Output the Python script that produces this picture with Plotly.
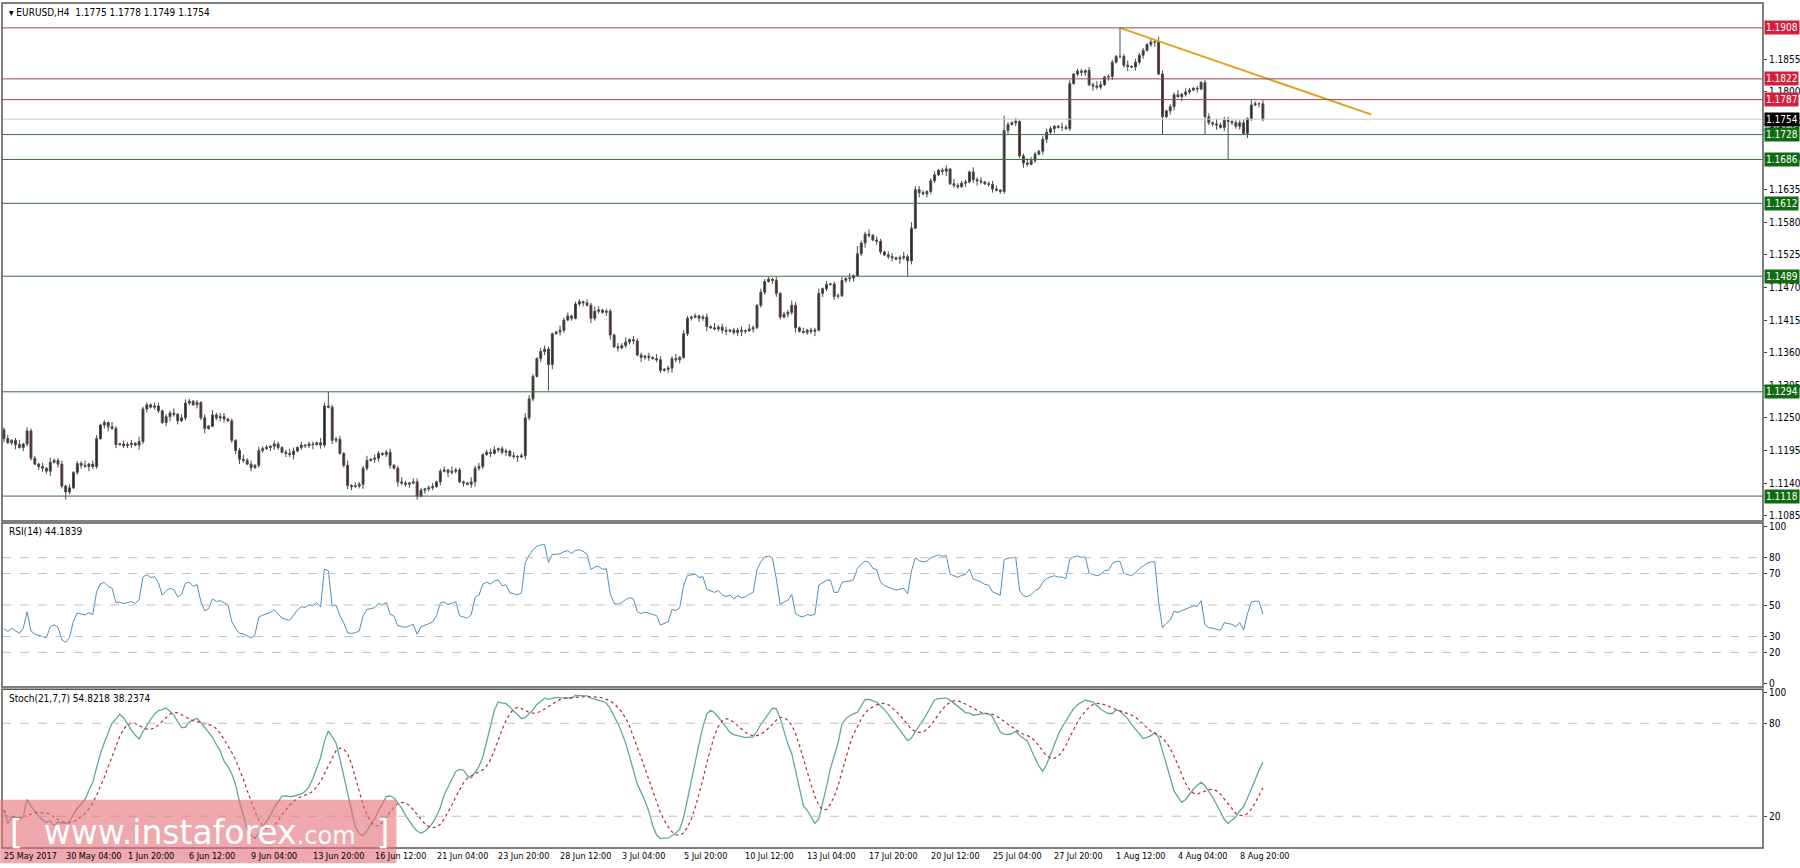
import numpy as np
import pandas as pd
import plotly.graph_objects as go

# H4 closes, in pips above 1.1000 (bar 0 = 25 May 2017)
close_pips = [
    215, 208, 212, 205, 200, 206, 228, 182, 172, 168,
    165, 160, 175, 178, 172, 135, 125, 132, 158, 173,
    170, 168, 172, 168, 215, 238, 242, 235, 232, 205,
    206, 203, 205, 207, 204, 210, 265, 272, 268, 270,
    262, 242, 252, 258, 256, 245, 250, 275, 278, 272,
    276, 250, 232, 236, 255, 250, 252, 248, 245, 212,
    195, 180, 178, 172, 166, 170, 195, 198, 200, 202,
    206, 200, 192, 190, 188, 194, 200, 204, 203, 206,
    205, 208, 204, 270, 268, 212, 214, 190, 170, 136,
    134, 135, 138, 165, 178, 180, 182, 190, 188, 192,
    170, 165, 142, 140, 138, 140, 142, 118, 128, 130,
    132, 134, 142, 160, 162, 158, 160, 162, 142, 140,
    138, 142, 165, 168, 188, 192, 190, 196, 198, 192,
    194, 186, 185, 184, 186, 250, 282, 320, 350, 362,
    366, 340, 392, 395, 398, 415, 422, 418, 442, 446,
    444, 440, 418, 430, 432, 428, 430, 390, 370, 368,
    372, 378, 382, 380, 356, 352, 354, 352, 350, 348,
    330, 332, 334, 350, 348, 352, 392, 418, 420, 422,
    418, 420, 404, 402, 400, 403, 398, 396, 398, 394,
    398, 396, 397, 400, 402, 440, 462, 480, 484, 482,
    460, 420, 425, 428, 440, 402, 396, 394, 398, 396,
    398, 460, 468, 475, 476, 455, 456, 482, 485, 486,
    490, 527, 545, 560, 558, 550, 548, 530, 525, 522,
    520, 518, 520, 522, 515, 570, 635, 630, 628, 632,
    650, 660, 668, 666, 670, 645, 642, 640, 646, 648,
    665, 652, 650, 648, 645, 644, 636, 634, 632, 735,
    745, 748, 750, 692, 680, 678, 684, 695, 700, 720,
    732, 738, 742, 740, 740, 738, 814, 830, 835, 833,
    836, 812, 810, 808, 812, 825, 826, 850, 860, 860,
    845, 843, 842, 850, 862, 870, 880, 884, 885, 830,
    758, 768, 775, 795, 792, 796, 800, 803, 806, 805,
    816, 758, 748, 746, 744, 740, 752, 750, 748, 742,
    748, 730, 755, 778, 780, 780, 754,
]
# wick lengths in 2-pip steps
upper_wick = ("2312413221314223131224133121421323142213312241332121314233121242313221"
              "3212431312214312231413224132123124213321231231422114231233122131243213"
              "3211423122132431221324132213143122413212123142331223142132213122431312"
              "2413122314132241321331242133212312314222142312331221312432133211423122"
              "13243122132413221314312241321212314233122314213")
lower_wick = upper_wick[::-1]
# the long wicks
high_fix = {84: 294, 289: 908, 259: 760, 235: 580, 221: 540}
low_fix = {317: 686, 300: 728, 234: 489, 107: 112, 16: 112, 141: 296, 311: 728}

last_ohlc = "1.1775 1.1778 1.1749 1.1754"
tick_text = ["25 May 2017", "30 May 04:00", "1 Jun 20:00", "6 Jun 12:00", "9 Jun 04:00",
             "13 Jun 20:00", "16 Jun 12:00", "21 Jun 04:00", "23 Jun 20:00", "28 Jun 12:00",
             "3 Jul 04:00", "5 Jul 20:00", "10 Jul 12:00", "13 Jul 04:00", "17 Jul 20:00",
             "20 Jul 12:00", "25 Jul 04:00", "27 Jul 20:00", "1 Aug 12:00", "4 Aug 04:00",
             "8 Aug 20:00"]
price_ticks = [1.1085, 1.1140, 1.1195, 1.1250, 1.1305, 1.1360, 1.1415, 1.1470, 1.1525,
               1.1580, 1.1635, 1.1690, 1.1745, 1.1800, 1.1855]
resistance = [1.1908, 1.1822, 1.1787]
support = [1.1728, 1.1686, 1.1612, 1.1489, 1.1294, 1.1118]
current_price = 1.1754
trend_start = (289, 1.1908)
trend_end = (354, 1.1762)

# build candles
c = 1.1 + np.array(close_pips) / 10000
o = np.concatenate([[1.1230], c[:-1]])
up = np.array([int(d) for d in upper_wick]) * 0.0002
dn = np.array([int(d) for d in lower_wick]) * 0.0002
h = np.maximum(o, c) + up
l = np.minimum(o, c) - dn
for i, v in high_fix.items():
    h[i] = 1.1 + v / 10000
for i, v in low_fix.items():
    l[i] = 1.1 + v / 10000
bars = np.arange(len(c))
df = pd.DataFrame({'open': o, 'high': h, 'low': l, 'close': c})

# RSI(14), Wilder smoothing, seeded with the mean move of the first 14 bars
delta = df['close'].diff().fillna(0)
g = delta.clip(lower=0)
s = (-delta.clip(upper=0))
g.iloc[0] = g.iloc[1:15].mean()
s.iloc[0] = s.iloc[1:15].mean()
gain = g.ewm(alpha=1 / 14, adjust=False).mean()
loss = s.ewm(alpha=1 / 14, adjust=False).mean()
rsi = 100 - 100 / (1 + gain / loss)

# Stochastic(21,7,7)
ll = df['low'].rolling(21, min_periods=1).min()
hh = df['high'].rolling(21, min_periods=1).max()
k = (df['close'] - ll).rolling(7, min_periods=1).sum() / (hh - ll).rolling(7, min_periods=1).sum() * 100
d = k.rolling(7, min_periods=1).mean()

font_name = 'DejaVu Sans Condensed'

fig = go.Figure()
fig.add_trace(go.Candlestick(
    x=bars, open=df['open'], high=df['high'], low=df['low'], close=df['close'],
    increasing=dict(line=dict(color='#4a4a4a', width=1), fillcolor='#1b3320'),
    decreasing=dict(line=dict(color='#4a4a4a', width=1), fillcolor='#5e1c1c'),
    whiskerwidth=0, xaxis='x', yaxis='y', showlegend=False, hoverinfo='skip'))
fig.add_trace(go.Scatter(x=[trend_start[0], trend_end[0]], y=[trend_start[1], trend_end[1]],
                         mode='lines', line=dict(color='#DAA520', width=2),
                         xaxis='x', yaxis='y', showlegend=False))
fig.add_trace(go.Scatter(x=bars, y=rsi, mode='lines', line=dict(color='#4f8fb8', width=1),
                         xaxis='x', yaxis='y2', showlegend=False))
fig.add_trace(go.Scatter(x=bars, y=k, mode='lines', line=dict(color='#5fa8a0', width=1.3),
                         xaxis='x', yaxis='y3', showlegend=False))
fig.add_trace(go.Scatter(x=bars, y=d, mode='lines', line=dict(color='#b03030', width=1.2, dash='dot'),
                         xaxis='x', yaxis='y3', showlegend=False))

shapes = []
for v in resistance:
    shapes.append(dict(type='line', xref='paper', yref='y', x0=0, x1=1, y0=v, y1=v,
                       line=dict(color='#a0405a', width=1)))
shapes.append(dict(type='line', xref='paper', yref='y', x0=0, x1=1, y0=current_price, y1=current_price,
                   line=dict(color='#c8c8c8', width=1)))
for v in support:
    shapes.append(dict(type='line', xref='paper', yref='y', x0=0, x1=1, y0=v, y1=v,
                       line=dict(color='#3d6e3d', width=1)))
for v in [80, 70, 50, 30, 20]:
    shapes.append(dict(type='line', xref='paper', yref='y2', x0=0, x1=1, y0=v, y1=v,
                       line=dict(color='#c0c0c0', width=1, dash='dash')))
for v in [80, 20]:
    shapes.append(dict(type='line', xref='paper', yref='y3', x0=0, x1=1, y0=v, y1=v,
                       line=dict(color='#c0c0c0', width=1, dash='dash')))
# panel frames
for y0, y1 in [(0.387, 1.0), (0.1905, 0.3846), (0.0, 0.188)]:
    shapes.append(dict(type='rect', xref='paper', yref='paper', x0=0, x1=1, y0=y0, y1=y1,
                       line=dict(color='#555555', width=1.5)))
# watermark box
shapes.append(dict(type='rect', xref='paper', yref='paper', x0=-0.001, x1=0.224, y0=-0.018, y1=0.057,
                   line=dict(width=0), fillcolor='rgba(228,110,120,0.6)'))

label_font = dict(color='white', size=10, family=font_name)
annotations = []
for v in resistance:
    annotations.append(dict(x=1, xref='paper', y=v, yref='y', text=f"{v:.4f}", showarrow=False,
                            xanchor='left', xshift=1, bgcolor='#d21f3c', borderpad=1, font=label_font))
for v in support:
    annotations.append(dict(x=1, xref='paper', y=v, yref='y', text=f"{v:.4f}", showarrow=False,
                            xanchor='left', xshift=1, bgcolor='#106b10', borderpad=1, font=label_font))
annotations.append(dict(x=1, xref='paper', y=current_price, yref='y', text=f"{current_price:.4f}",
                        showarrow=False, xanchor='left', xshift=1, bgcolor='black', borderpad=1,
                        font=label_font))
text_font = dict(color='black', size=10, family=font_name)
annotations.append(dict(x=0.003, xref='paper', y=0.998, yref='paper', text="▾ EURUSD,H4  " + last_ohlc,
                        showarrow=False, xanchor='left', yanchor='top', font=text_font))
annotations.append(dict(x=0.003, xref='paper', y=0.383, yref='paper', text=f"RSI(14) {rsi.iloc[-1]:.4f}",
                        showarrow=False, xanchor='left', yanchor='top', font=text_font))
annotations.append(dict(x=0.003, xref='paper', y=0.186, yref='paper',
                        text=f"Stoch(21,7,7) {k.iloc[-1]:.4f} {d.iloc[-1]:.4f}",
                        showarrow=False, xanchor='left', yanchor='top', font=text_font))
# date labels, left-aligned at their bar as in the terminal
for i, t in enumerate(tick_text):
    annotations.append(dict(x=16 * i - 0.5, xref='x', y=0, yref='paper', text=t, showarrow=False,
                            xanchor='left', yanchor='top', yshift=-1,
                            font=dict(color='black', size=9, family=font_name)))
annotations.append(dict(x=0.112, xref='paper', y=0.018, yref='paper',
                        text="[  www.instaforex<span style='font-size:24px'>.com</span>  ]",
                        showarrow=False, xanchor='center', yanchor='middle',
                        font=dict(color='white', size=33, family='DejaVu Sans')))

axis_font = dict(color='black', size=10, family=font_name)
fig.update_layout(
    width=1800, height=868,
    margin=dict(l=2, r=37, t=3, b=20, autoexpand=False),
    paper_bgcolor='white', plot_bgcolor='white',
    shapes=shapes, annotations=annotations,
    xaxis=dict(range=[-0.5, 455.5], anchor='y3', rangeslider=dict(visible=False),
               showticklabels=False, showgrid=False, zeroline=False, ticks=''),
    yaxis=dict(domain=[0.387, 1.0], range=[1.1076, 1.1950], side='right', tickvals=price_ticks,
               tickformat='.4f', showgrid=False, zeroline=False, ticks='outside', ticklen=3,
               automargin=False, tickfont=axis_font),
    yaxis2=dict(domain=[0.1905, 0.3846], range=[-2, 102], side='right', anchor='x',
                tickvals=[100, 80, 70, 50, 30, 20, 0], showgrid=False, zeroline=False,
                ticks='outside', ticklen=3, automargin=False, tickfont=axis_font),
    yaxis3=dict(domain=[0.0, 0.188], range=[-0.5, 102], side='right', anchor='x',
                tickvals=[100, 80, 20], showgrid=False, zeroline=False,
                ticks='outside', ticklen=3, automargin=False, tickfont=axis_font),
)

fig.write_html("out.html", config={'displayModeBar': False},
               post_script="document.body.style.margin='0';document.body.style.overflow='hidden';")
